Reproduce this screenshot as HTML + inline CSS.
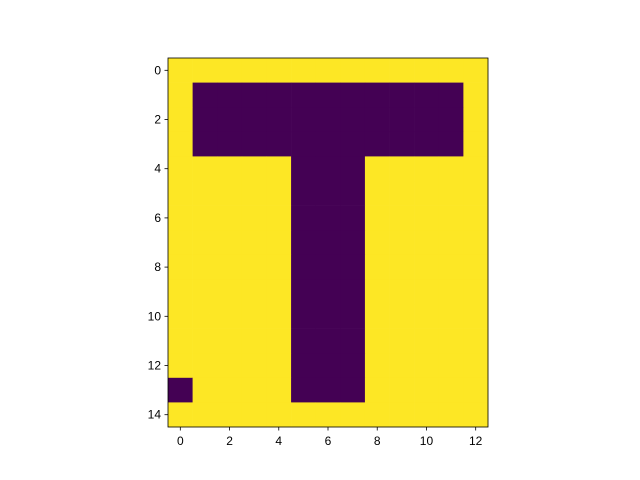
<!DOCTYPE html>
<html><head><meta charset="utf-8">
<style>body{margin:0;background:#fff}svg{display:block}text{font-family:"Liberation Sans",sans-serif;font-size:12px;fill:#000}</style>
</head><body>
<svg id="chart" width="640" height="480" xmlns="http://www.w3.org/2000/svg"></svg>
<script>
const grid = [
"0000000000000",
"0111111111110",
"0111111111110",
"0111111111110",
"0000011100000",
"0000011100000",
"0000011100000",
"0000011100000",
"0000011100000",
"0000011100000",
"0000011100000",
"0000011100000",
"0000011100000",
"1000011100000",
"0000000000000"
];
const xTicks = [0,2,4,6,8,10,12];
const yTicks = [0,2,4,6,8,10,12,14];
const colors = ["#fde725","#440154"];

const svg = document.getElementById('chart');
const NS = "http://www.w3.org/2000/svg";
const L=168, T=58, cols=grid[0].length, rows=grid.length;
const cw=320/cols, ch=369/rows;
const sx = c => L + (c+0.5)*cw;
const sy = r => T + (r+0.5)*ch;
function mk(tag, attrs){const e=document.createElementNS(NS,tag);for(const k in attrs)e.setAttribute(k,attrs[k]);svg.appendChild(e);return e;}
grid.forEach((row,r)=>{[...row].forEach((v,c)=>{
  const e=mk('rect',{x:sx(c)-cw/2,y:sy(r)-ch/2,width:cw+0.3,height:ch+0.3,fill:colors[+v]});
  
  
});});
const frame=mk('rect',{x:L,y:T,width:320,height:369,fill:'none',stroke:'#000','stroke-width':0.8});


xTicks.forEach(t=>{
  const x=sx(t);
  const l=mk('line',{x1:x,x2:x,y1:T+369,y2:T+369+3.5,stroke:'#000','stroke-width':0.8});
  
  
  const tx=mk('text',{x:x,y:T+369+18,'text-anchor':'middle'});tx.textContent=t;
  
  
});
yTicks.forEach(t=>{
  const y=sy(t);
  const l=mk('line',{x1:L-3.5,x2:L,y1:y,y2:y,stroke:'#000','stroke-width':0.8});
  
  
  const tx=mk('text',{x:L-7,y:y+4,'text-anchor':'end'});tx.textContent=t;
  
  
});
</script>
</body></html>
